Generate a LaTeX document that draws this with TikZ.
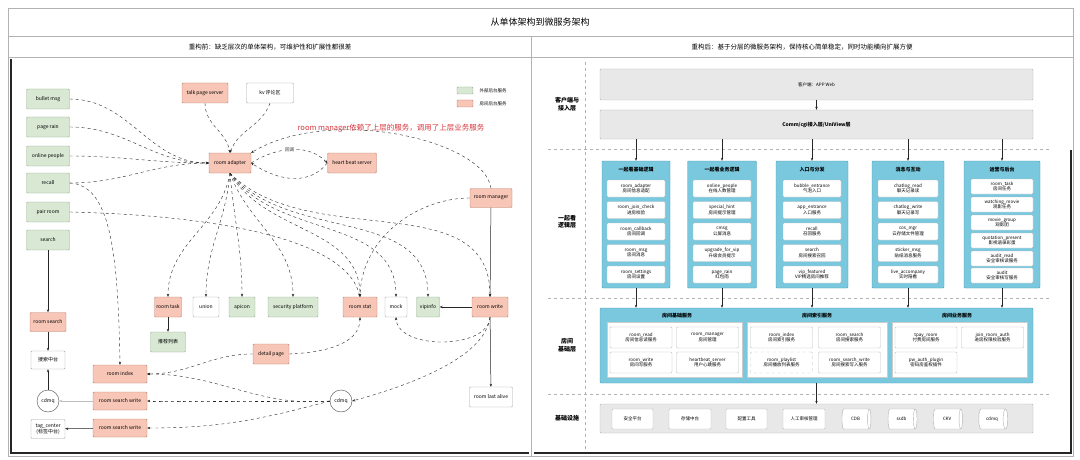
\documentclass[tikz,border=0pt]{standalone}
\usepackage{fontspec}
\setmainfont{Noto Sans CJK SC}
\usepackage{tikz}
\usepackage{xcolor}
\usetikzlibrary{arrows.meta, positioning, calc, shapes.geometric}

\definecolor{grnfill}{HTML}{D8E8D3}
\definecolor{grnline}{HTML}{98AE92}
\definecolor{pkfill}{HTML}{F8C6B6}
\definecolor{pkline}{HTML}{B9806F}
\definecolor{bluefill}{HTML}{7AC8DD}
\definecolor{blueline}{HTML}{4E9FBB}
\definecolor{layfill}{HTML}{E8E8E8}
\definecolor{notered}{HTML}{D9363E}

\tikzset{
  box/.style={rounded corners=1pt, minimum height=20pt, inner sep=1pt, align=center, font=\fontsize{5}{6}\selectfont},
  gbox/.style={box, draw=grnline, fill=grnfill},
  pbox/.style={box, draw=pkline, fill=pkfill},
  wbox/.style={box, draw=gray!70, fill=white},
  mq/.style={circle, draw=gray!60!black, fill=white, minimum size=22pt, inner sep=0pt, font=\fontsize{5}{6}\selectfont},
  dep/.style={-{Stealth[length=3pt,width=2.4pt]}, dashed, gray!30!black, line width=0.4pt},
  call/.style={-{Stealth[length=3pt,width=2.4pt]}, gray!30!black, line width=0.5pt},
  layer/.style={rounded corners=1pt, draw=gray!60, fill=layfill, inner sep=1pt, align=center},
  col/.style={draw=blueline, fill=bluefill, rounded corners=1pt, minimum height=127pt},
  coltitle/.style={font=\fontsize{5}{6}\selectfont\bfseries},
  item/.style={draw=gray!50, fill=white, rounded corners=1pt, minimum width=58pt, minimum height=17pt, inner sep=0pt, align=center, font=\fontsize{4.5}{5.5}\selectfont},
  sitem/.style={item, minimum width=62pt, minimum height=15pt},
  bitem/.style={item, minimum width=62pt, minimum height=21pt},
  store/.style={cylinder, draw=gray!60, fill=white, aspect=1, minimum width=20pt, minimum height=29pt, inner sep=0pt, shape border rotate=0, font=\fontsize{4.5}{5.5}\selectfont},
  lay/.style={font=\fontsize{6}{7.5}\selectfont\bfseries, align=center},
  sep/.style={dashed, gray!60, line width=0.5pt}
}

\begin{document}
\begin{tikzpicture}[x=1pt, y=-1pt]
  \useasboundingbox (0,0) rectangle (1080,460);
  \fill[white] (0,0) rectangle (1080,460);

  % frame and headers
  \draw[gray!60] (8,8) rectangle (1073,456);
  \draw[gray!60] (8,36) -- (1073,36);
  \draw[gray!60] (8,57) -- (1073,57);
  \draw[gray!60] (531,36) -- (531,456);
  \node[font=\fontsize{9}{11}\selectfont] (title) at (540,22) {从单体架构到微服务架构};
  \node[font=\fontsize{6.5}{8}\selectfont] (headL) at (270,47) {重构前：缺乏层次的单体架构，可维护性和扩展性都很差};
  \node[font=\fontsize{6.5}{8}\selectfont] (headR) at (802,47) {重构后：基于分层的微服务架构，保持核心简单稳定，同时功能横向扩展方便};
  \draw[gray!30!black, line width=1.4pt] (11,59) -- (11,453) -- (529,453);
  \draw[gray!30!black, line width=1.4pt] (534,453) -- (1071,453) -- (1071,150);

  % ---------------- before ----------------
  \node[gbox, minimum width=43pt] (bullet) at (48,99) {bullet msg};
  \node[gbox, minimum width=43pt] (pagerain) at (48,127) {page rain};
  \node[gbox, minimum width=43pt] (online) at (48,156) {online people};
  \node[gbox, minimum width=43pt] (recallL) at (48,183) {recall};
  \node[gbox, minimum width=43pt] (pairroom) at (48,212) {pair room};
  \node[gbox, minimum width=43pt] (searchL) at (48,240) {search};
  \node[pbox, minimum width=36pt, minimum height=19pt] (roomsearchL) at (48,322) {room search};
  \node[wbox, minimum width=34pt, minimum height=18pt] (searchmid) at (48,360) {搜索中台};
  \node[mq] (mqL) at (48,401) {cdmq};
  \node[wbox, minimum width=34pt, minimum height=19pt] (tagcenter) at (48,429) {tag\_center\\(标签中台)};

  \node[pbox, minimum width=54pt, minimum height=18pt] (roomindexL) at (120,374) {room index};
  \node[pbox, minimum width=54pt, minimum height=18pt] (swriteA) at (120,401) {room search write};
  \node[pbox, minimum width=54pt, minimum height=18pt] (swriteB) at (120,428) {room search write};

  \node[pbox, minimum width=46pt] (talkpage) at (205,93) {talk page server};
  \node[wbox, minimum width=47pt] (kvzone) at (270,93) {kv 评论区};
  \node[pbox, minimum width=42pt] (adapter) at (230,163) {room adapter};
  \node[pbox, minimum width=49pt] (heartbeat) at (352,163) {heart beat server};
  \node[pbox, minimum width=42pt, minimum height=19pt] (manager) at (491,198) {room manager};

  \node[pbox, minimum width=27pt] (roomtask) at (168,307) {room task};
  \node[wbox, minimum width=26pt] (union) at (206,307) {union};
  \node[gbox, minimum width=26pt] (apicon) at (242,307) {apicon};
  \node[gbox, minimum width=50pt] (security) at (293,307) {security platform};
  \node[pbox, minimum width=34pt] (roomstat) at (360,307) {room stat};
  \node[wbox, minimum width=22pt] (mock) at (396,307) {mock};
  \node[gbox, minimum width=23pt] (vipinfo) at (428,307) {vipinfo};
  \node[pbox, minimum width=36pt] (roomwrite) at (490,307) {room write};
  \node[gbox, minimum width=35pt] (recommend) at (168,342) {推荐列表};
  \node[pbox, minimum width=36pt] (detail) at (271,354) {detail page};
  \node[mq] (mqR) at (341,401) {cdmq};
  \node[wbox, minimum width=43pt] (lastalive) at (491,397) {room last alive};

  \draw[draw=grnline, fill=grnfill, rounded corners=1pt] (457,87) rectangle (473,94);
  \node[anchor=west, font=\fontsize{4.5}{5}\selectfont] (legA) at (476,90.5) {外部后台服务};
  \draw[draw=pkline, fill=pkfill, rounded corners=1pt] (457,100) rectangle (473,107);
  \node[anchor=west, font=\fontsize{4.5}{5}\selectfont] (legB) at (476,103.5) {房间后台服务};
  \node[text=notered, font=\fontsize{7.5}{9}\selectfont] (note) at (391,128) {room manager依赖了上层的服务，调用了上层业务服务};

  \draw[dep] (bullet.east) to[out=0,in=180] (adapter.west);
  \draw[dep] (pagerain.east) to[out=0,in=180] (adapter.west);
  \draw[dep] (online.east) to[out=0,in=180] (adapter.west);
  \draw[dep] (recallL.east) to[out=0,in=180] (adapter.west);
  \draw[dep] (recallL.east) .. controls (110,185) and (118,250) .. (roomindexL.north);
  \draw[dep] (pairroom.east) .. controls (200,215) and (345,235) .. (roomstat.north);
  \draw[dep] (talkpage.south) to[out=270,in=100] (adapter.north);
  \draw[dep] (kvzone.south) to[out=250,in=70] (adapter.north);
  \draw[dep] (adapter.east) .. controls (280,145) and (310,145) .. node[pos=0.45, fill=white, inner sep=1pt, font=\fontsize{4.5}{5}\selectfont] {回调} (heartbeat.west);
  \draw[dep] (heartbeat.west) .. controls (310,185) and (280,182) .. (adapter.east);
  \draw[dep] (manager.north) .. controls (485,140) and (330,105) .. (adapter.north east);
  \draw[dep] (manager.west) .. controls (420,198) and (362,235) .. (roomstat.north);
  \draw[dep] (adapter.south) to[out=-100,in=90] (roomtask.north);
  \draw[dep] (adapter.south) to[out=-95,in=90] (union.north);
  \draw[dep] (adapter.south) to[out=-85,in=90] (apicon.north);
  \draw[dep] (adapter.south) to[out=-70,in=90] (security.north);
  \draw[dep] (adapter.south) to[out=-60,in=90] (roomstat.north);
  \draw[dep] (adapter.south) to[out=-55,in=90] (mock.north);
  \draw[dep] (adapter.south) to[out=-50,in=90] (vipinfo.north);
  \draw[dep] (adapter.south) to[out=-45,in=90] (roomwrite.north);
  \draw[call] (manager) -- (roomwrite);
  \draw[call] (roomwrite) -- (vipinfo);
  \draw[call] (roomwrite) -- (lastalive);
  \draw[dep] (roomwrite.south) .. controls (488,350) and (398,350) .. (mock.south);
  \draw[dep] (roomwrite.south) .. controls (485,360) and (400,388) .. (mqR.east);
  \draw[dep] (detail.east) .. controls (335,352) and (360,340) .. (roomstat.south);
  \draw[call] (roomtask) -- (recommend);
  \draw[call] (searchL) -- (roomsearchL);
  \draw[call] (roomsearchL) -- (searchmid);
  \draw[call] (mqL) -- (searchmid);
  \draw[call, gray!50] (swriteA) -- (mqL);
  \draw[call] (swriteB) -- (tagcenter);
  \draw[dep] (detail.west) to[out=180,in=0] (roomindexL.east);
  \draw[dep] (mqR.west) to[out=185,in=0] (roomindexL.east);
  \draw[dep] (mqR.west) to[out=180,in=0] (swriteA.east);
  \draw[dep] (mqR.west) to[out=195,in=0] (swriteB.east);

  % ---------------- after ----------------
  \draw[sep] (585,62) -- (585,450);
  \draw[sep] (548,149) -- (1050,149);
  \draw[sep] (548,298) -- (1050,298);
  \draw[sep] (548,394) -- (1050,394);
  \node[lay] (layA) at (567,104) {客户端与\\接入层};
  \node[lay] (layB) at (567,222) {一起看\\逻辑层};
  \node[lay] (layC) at (567,345) {房间\\基础层};
  \node[lay] (layD) at (567,418) {基础设施};

  \node[layer, minimum width=433pt, minimum height=31pt, font=\fontsize{4.5}{5.5}\selectfont] (client) at (816.5,84.5) {客户端：APP Web};
  \node[layer, minimum width=433pt, minimum height=29pt, font=\fontsize{5}{6}\selectfont\bfseries] (access) at (816.5,124.5) {Comm/cgi接入层/UniView层};
  \draw[call] (client) -- (access);

  \node[col, minimum width=68pt] (colA) at (636,224.5) {};
  \node[col, minimum width=69pt] (colB) at (722,224.5) {};
  \node[col, minimum width=72pt] (colC) at (812,224.5) {};
  \node[col, minimum width=72pt] (colD) at (908,224.5) {};
  \node[col, minimum width=76pt] (colE) at (1002,224.5) {};
  \foreach \c in {colA,colB,colC,colD,colE}
    \draw[call] (\c.north |- access.south) -- (\c.north);

  \node[coltitle] (tA) at (636,170) {一起看基础逻辑};
  \node[item] (a1) at (636,188.5) {room\_adapter\\房间信息适配};
  \node[item] (a2) at (636,210) {room\_join\_check\\进房校验};
  \node[item] (a3) at (636,231.5) {room\_callback\\房间回调};
  \node[item] (a4) at (636,253) {room\_msg\\房间消息};
  \node[item] (a5) at (636,274.5) {room\_settings\\房间设置};

  \node[coltitle] (tB) at (722,170) {一起看业务逻辑};
  \node[item] (b1) at (722,188.5) {online\_people\\在线人数管理};
  \node[item] (b2) at (722,210) {special\_hint\\房间提示管理};
  \node[item] (b3) at (722,231.5) {cmsg\\公屏消息};
  \node[item] (b4) at (722,253) {upgrade\_for\_vip\\升级会员提示};
  \node[item] (b5) at (722,274.5) {page\_rain\\红包雨};

  \node[coltitle] (tC) at (812,170) {入口与分发};
  \node[item] (c1) at (812,188.5) {bubble\_entrance\\气泡入口};
  \node[item] (c2) at (812,210) {app\_entrance\\入口服务};
  \node[item] (c3) at (812,231.5) {recall\\召回服务};
  \node[item] (c4) at (812,253) {search\\房间搜索召回};
  \node[item] (c5) at (812,274.5) {vip\_featured\\VIP精选房间推荐};

  \node[coltitle] (tD) at (908,170) {消息与互动};
  \node[item, minimum width=60pt] (d1) at (908,188.5) {chatlog\_read\\聊天记录读};
  \node[item, minimum width=60pt] (d2) at (908,210) {chatlog\_write\\聊天记录写};
  \node[item, minimum width=60pt] (d3) at (908,231.5) {cos\_mgr\\云存储文件管理};
  \node[item, minimum width=60pt] (d4) at (908,253) {sticker\_msg\\贴纸消息服务};
  \node[item, minimum width=60pt] (d5) at (908,274.5) {live\_accompany\\实时陪看};

  \node[coltitle] (tE) at (1002,170) {运营与后台};
  \node[sitem] (e1) at (1002,186.5) {room\_task\\房间任务};
  \node[sitem] (e2) at (1002,204.5) {watching\_movie\\观影任务};
  \node[sitem] (e3) at (1002,222.5) {movie\_group\\观影团};
  \node[sitem] (e4) at (1002,240.5) {quotation\_present\\影视语录彩蛋};
  \node[sitem] (e5) at (1002,258.5) {audit\_read\\安全审核读服务};
  \node[sitem] (e6) at (1002,275.5) {audit\\安全审核写服务};

  \node[col, minimum width=433pt, minimum height=75pt] (base) at (816.5,345.5) {};
  \foreach \c in {colA,colB,colC,colD,colE}
    \draw[call] (\c.south) -- (\c.south |- base.north);
  \node[coltitle] (sA) at (677,316) {房间基础服务};
  \node[coltitle] (sB) at (817,316) {房间索引服务};
  \node[coltitle] (sC) at (957,316) {房间业务服务};
  \node[draw=gray!40, fill=white, minimum width=135pt, minimum height=55pt] (subA) at (674.5,349.5) {};
  \node[draw=gray!40, fill=white, minimum width=140pt, minimum height=55pt] (subB) at (817,349.5) {};
  \node[draw=gray!40, fill=white, minimum width=135pt, minimum height=55pt] (subC) at (959.5,349.5) {};
  \node[bitem] (r1) at (641,337.5) {room\_read\\房间信息读服务};
  \node[bitem] (r2) at (707.5,337.5) {room\_manager\\房间管理};
  \node[bitem] (r3) at (641,362.5) {room\_write\\房间写服务};
  \node[bitem] (r4) at (707.5,362.5) {heartbeat\_server\\用户心跳服务};
  \node[bitem] (r5) at (781.5,337.5) {room\_index\\房间索引服务};
  \node[bitem] (r6) at (849.5,337.5) {room\_search\\房间搜索服务};
  \node[bitem, dashed] (r7) at (781.5,362.5) {room\_playlist\\房间播放列表服务};
  \node[bitem] (r8) at (849.5,362.5) {room\_search\_write\\房间搜索写入服务};
  \node[bitem] (r9) at (926,337.5) {tpay\_room\\付费房间服务};
  \node[bitem] (r10) at (992.5,337.5) {join\_room\_auth\\进房权限校验服务};
  \node[bitem] (r11) at (926,362.5) {pw\_auth\_plugin\\密码房鉴权插件};

  \node[layer, minimum width=433pt, minimum height=29pt] (infra) at (816.5,418.5) {};
  \draw[call] (base) -- (infra);
  \node[item, minimum width=41pt, minimum height=20pt] (f1) at (632.5,419) {安全平台};
  \node[item, minimum width=42pt, minimum height=20pt] (f2) at (690,419) {存储中台};
  \node[item, minimum width=41pt, minimum height=20pt] (f3) at (746.5,419) {配置工具};
  \node[item, minimum width=42pt, minimum height=20pt] (f4) at (804,419) {人工审核管理};
  \node[store] (g1) at (855.5,419) {CDB};
  \node[store] (g2) at (901.5,419) {ssdb};
  \node[store] (g3) at (947,419) {CKV};
  \node[store] (g4) at (992,419) {cdmq};
\end{tikzpicture}
\end{document}
